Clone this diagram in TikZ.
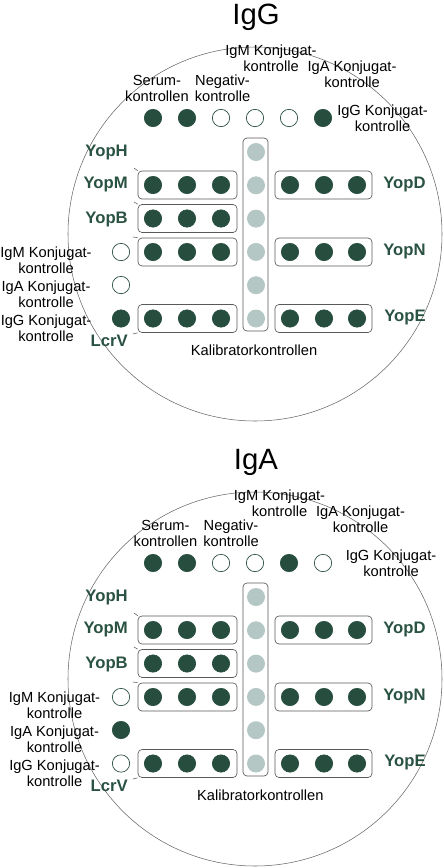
\documentclass[tikz,border=0pt]{standalone}
\usepackage{fontspec}
\setmainfont{Liberation Sans}
\usepackage{tikz}
\definecolor{plategreen}{RGB}{38,77,62}
\definecolor{labelgreen}{RGB}{42,82,66}
\definecolor{calgray}{RGB}{180,199,196}
\tikzset{
  plate/.style={circle,draw=black!60,line width=0.4pt,minimum size=280.5pt,inner sep=0pt},
  dot/.style={circle,draw=plategreen,line width=0.5pt,minimum size=13pt,inner sep=0pt},
  dotcal/.style={circle,fill=calgray,minimum size=13.5pt,inner sep=0pt},
  stripbox/.style={draw=black!65,line width=0.5pt,rounded corners=3pt,minimum height=21pt,inner sep=0pt},
  antigen/.style={font=\fontsize{12.5}{14}\selectfont\bfseries,text=labelgreen,inner sep=0pt},
  ctrl/.style={font=\fontsize{11}{12}\selectfont,align=center,inner sep=0pt},
  plate title/.style={font=\fontsize{22}{24}\selectfont,inner sep=0pt},
  tick/.style={draw=black!65,line width=0.4pt}
}
\newcommand{\drawplate}[4]{%
  \node[plate] (plate) at (255,234) {};
  \node[plate title,anchor=base] (title) at (256,24) {#1};
  \foreach \c [count=\i] in {#2}
    \node[dot,fill=\c] (t_\i) at ({119+34*\i},118) {};
  \node[stripbox,minimum width=18.75pt,minimum height=144.75pt] (kbox) at (255.5,234.5) {};
  \foreach \i in {1,...,6}
    \node[dotcal] (k_\i) at (256,{118.7+33.3*\i}) {};
  \foreach \r/\y in {1/185,2/218.5,3/252,5/318.5}{
    \node[stripbox,minimum width=74.25pt] (l_\r) at (187.5,\y) {};
    \foreach \x [count=\j] in {153,187,221}
      \node[dot,fill=plategreen] (l_\r_\j) at (\x,\y) {};
  }
  \foreach \r/\y in {1/185,3/252,5/318.5}{
    \node[stripbox,minimum width=72.75pt] (r_\r) at (323.5,\y) {};
    \foreach \x [count=\j] in {290,324,357}
      \node[dot,fill=plategreen] (r_\r_\j) at (\x,\y) {};
  }
  \foreach \c/\y [count=\i] in {#3}
    \node[dot,fill=\c] (c_\i) at (121,\y) {};
  \node[ctrl] (serum) at ({157+#4},88) {Serum-\\kontrollen};
  \node[ctrl] (neg) at ({222.5+#4},88) {Negativ-\\kontrolle};
  \node[ctrl] (igm_t) at ({271+#4},58) {IgM Konjugat-\\kontrolle};
  \node[ctrl] (iga_t) at ({352+#4},74) {IgA Konjugat-\\kontrolle};
  \node[ctrl] (igg_t) at ({382.5+#4},118) {IgG Konjugat-\\kontrolle};
  \node[ctrl] (igm_l) at ({46+#4},260) {IgM Konjugat-\\kontrolle};
  \node[ctrl] (iga_l) at ({46+#4},294) {IgA Konjugat-\\kontrolle};
  \node[ctrl] (igg_l) at ({46+#4},328) {IgG Konjugat-\\kontrolle};
  \node[ctrl] (kal) at ({254+0.75*#4},350) {Kalibratorkontrollen};
  \node[antigen,anchor=mid east] (yoph) at (128,153) {YopH};
  \node[antigen,anchor=mid east] (yopm) at (128,185) {YopM};
  \node[antigen,anchor=mid east] (yopb) at (128,220) {YopB};
  \node[antigen,anchor=mid east] (lcrv) at (128,343) {LcrV};
  \node[antigen,anchor=mid west] (yopd) at (383,185) {YopD};
  \node[antigen,anchor=mid west] (yopn) at (383,252) {YopN};
  \node[antigen,anchor=mid west] (yope) at (384,318) {YopE};
  \coordinate (p_1) at (134,168);
  \coordinate (p_2) at (134,202);
  \coordinate (p_3) at (133,237);
  \coordinate (p_5) at (133,334);
  \draw[tick] (p_1) -- (l_1.north west);
  \draw[tick] (p_2) -- (l_2.north west);
  \draw[tick] (p_3) -- (l_3.north west);
  \draw[tick] (p_5) -- (l_5.south west);
}
\begin{document}
\begin{tikzpicture}[x=0.75pt,y=-0.75pt]
  \useasboundingbox (0,0) rectangle (443,868);
  \begin{scope}[name prefix=g-]
    \drawplate{IgG}{plategreen,plategreen,white,white,white,plategreen}{white/252,white/285,plategreen/318.5}{0}
  \end{scope}
  \begin{scope}[shift={(0,445)},name prefix=a-]
    \drawplate{IgA}{plategreen,plategreen,white,white,plategreen,white}{white/252,plategreen/285,white/318.5}{8.5}
  \end{scope}
\end{tikzpicture}
\end{document}
